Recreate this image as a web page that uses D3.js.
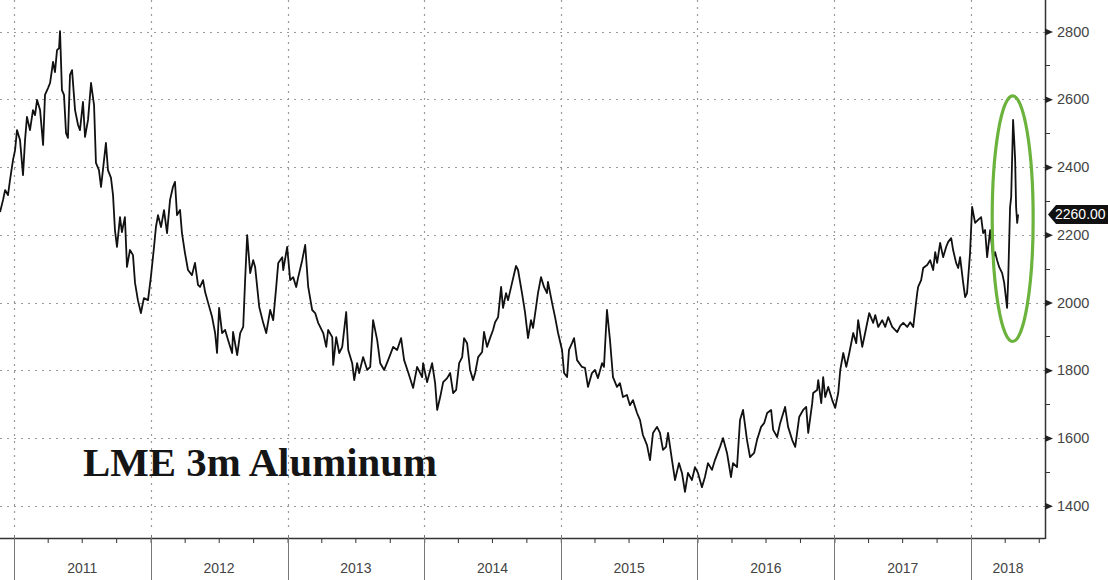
<!DOCTYPE html>
<html>
<head>
<meta charset="utf-8">
<script src="https://cdn.jsdelivr.net/npm/d3@7"></script>
<style>
  body { margin: 0; background: #fff; }
  svg { display: block; }
</style>
</head>
<body>
<div id="chart"></div>
<script>
// LME 3m aluminium (decimal year, USD/t)
var years = [2010.898,2010.920,2010.935,2010.956,2010.971,2010.993,2011.008,2011.022,2011.044,2011.066,
  2011.081,2011.095,2011.117,2011.139,2011.154,2011.169,2011.191,2011.213,2011.227,2011.249,
  2011.264,2011.286,2011.300,2011.315,2011.330,2011.337,2011.351,2011.366,2011.381,2011.395,
  2011.410,2011.425,2011.447,2011.469,2011.483,2011.505,2011.520,2011.542,2011.564,2011.586,
  2011.600,2011.622,2011.637,2011.651,2011.673,2011.688,2011.710,2011.725,2011.739,2011.754,
  2011.776,2011.790,2011.812,2011.827,2011.849,2011.871,2011.886,2011.907,2011.929,2011.951,
  2011.981,2012.002,2012.025,2012.039,2012.054,2012.076,2012.098,2012.120,2012.142,2012.163,
  2012.178,2012.193,2012.215,2012.229,2012.251,2012.273,2012.302,2012.324,2012.346,2012.361,
  2012.383,2012.398,2012.420,2012.449,2012.471,2012.485,2012.500,2012.522,2012.544,2012.566,
  2012.595,2012.602,2012.632,2012.654,2012.676,2012.690,2012.705,2012.727,2012.749,2012.763,
  2012.793,2012.822,2012.844,2012.873,2012.895,2012.917,2012.932,2012.961,2012.968,2012.997,
  2013.019,2013.041,2013.063,2013.078,2013.107,2013.129,2013.151,2013.180,2013.202,2013.224,
  2013.261,2013.283,2013.297,2013.327,2013.334,2013.356,2013.378,2013.400,2013.429,2013.444,
  2013.473,2013.488,2013.509,2013.524,2013.553,2013.583,2013.605,2013.626,2013.656,2013.678,
  2013.707,2013.736,2013.773,2013.802,2013.831,2013.853,2013.882,2013.919,2013.948,2013.985,
  2013.992,2014.021,2014.058,2014.080,2014.095,2014.117,2014.139,2014.168,2014.190,2014.212,
  2014.234,2014.256,2014.278,2014.292,2014.314,2014.336,2014.358,2014.373,2014.395,2014.424,
  2014.438,2014.460,2014.482,2014.504,2014.519,2014.541,2014.563,2014.577,2014.599,2014.614,
  2014.643,2014.672,2014.687,2014.716,2014.738,2014.760,2014.782,2014.797,2014.819,2014.833,
  2014.855,2014.877,2014.899,2014.906,2014.936,2014.958,2014.980,2015.009,2015.024,2015.046,
  2015.060,2015.082,2015.097,2015.119,2015.155,2015.177,2015.199,2015.228,2015.250,2015.272,
  2015.302,2015.316,2015.338,2015.360,2015.382,2015.411,2015.433,2015.455,2015.484,2015.506,
  2015.528,2015.558,2015.580,2015.601,2015.631,2015.653,2015.675,2015.704,2015.726,2015.748,
  2015.770,2015.785,2015.814,2015.836,2015.865,2015.887,2015.909,2015.931,2015.960,2015.982,
  2016.004,2016.033,2016.055,2016.077,2016.106,2016.128,2016.165,2016.187,2016.216,2016.245,
  2016.260,2016.289,2016.311,2016.333,2016.362,2016.384,2016.414,2016.435,2016.465,2016.487,
  2016.509,2016.538,2016.553,2016.582,2016.604,2016.640,2016.662,2016.692,2016.714,2016.743,
  2016.772,2016.794,2016.809,2016.838,2016.845,2016.874,2016.882,2016.904,2016.918,2016.933,
  2016.955,2016.984,2017.006,2017.028,2017.043,2017.065,2017.087,2017.109,2017.138,2017.160,
  2017.174,2017.204,2017.225,2017.255,2017.284,2017.299,2017.321,2017.350,2017.372,2017.394,
  2017.423,2017.460,2017.482,2017.504,2017.533,2017.555,2017.577,2017.606,2017.613,2017.635,
  2017.650,2017.679,2017.701,2017.723,2017.738,2017.752,2017.774,2017.796,2017.818,2017.833,
  2017.855,2017.869,2017.891,2017.906,2017.920,2017.942,2017.957,2017.971,2017.993,2018.008,
  2018.030,2018.052,2018.074,2018.089,2018.103,2018.118,2018.140,2018.162,2018.176,2018.191,
  2018.206,2018.228,2018.243,2018.264,2018.272,2018.286,2018.294,2018.308,2018.316,2018.323,
  2018.330,2018.338,2018.345];

var prices = [2267,2303,2332,2317,2362,2421,2450,2509,2480,2376,
  2480,2548,2509,2568,2553,2598,2568,2465,2613,2633,
  2648,2710,2680,2745,2751,2801,2627,2613,2500,2486,
  2672,2686,2568,2524,2509,2592,2489,2539,2648,2583,
  2412,2391,2341,2391,2471,2391,2368,2317,2214,2164,
  2252,2208,2252,2105,2155,2140,2058,2007,1969,2013,
  2007,2075,2164,2223,2258,2223,2273,2205,2303,2341,
  2356,2258,2273,2205,2146,2096,2081,2117,2052,2046,
  2066,2031,1999,1957,1910,1851,1984,1910,1919,1889,
  1851,1913,1845,1910,1928,2066,2199,2087,2125,2105,
  1987,1940,1910,1978,1948,2046,2117,2134,2096,2164,
  2066,2075,2046,2075,2125,2170,2046,1978,1969,1940,
  1910,1869,1919,1898,1816,1898,1851,1869,1972,1860,
  1821,1771,1821,1792,1839,1801,1810,1948,1889,1821,
  1801,1830,1869,1860,1895,1830,1795,1748,1810,1780,
  1821,1765,1821,1762,1683,1721,1765,1777,1792,1733,
  1742,1821,1839,1895,1880,1801,1771,1792,1839,1854,
  1913,1869,1895,1919,1942,1957,2046,1984,2028,2007,
  2058,2108,2096,2028,1972,1895,1948,1925,1987,2028,
  2075,2046,2028,2061,1999,1957,1910,1860,1792,1780,
  1860,1880,1895,1830,1810,1807,1751,1792,1801,1777,
  1821,1810,1978,1889,1780,1751,1762,1721,1727,1697,
  1712,1674,1653,1609,1579,1535,1615,1633,1615,1565,
  1574,1615,1535,1476,1526,1497,1441,1497,1476,1514,
  1497,1455,1485,1526,1506,1535,1574,1600,1556,1485,
  1526,1514,1653,1683,1594,1544,1556,1594,1633,1644,
  1674,1683,1624,1603,1644,1692,1633,1594,1574,1662,
  1683,1692,1615,1703,1733,1742,1771,1703,1780,1721,
  1751,1712,1689,1733,1801,1851,1810,1851,1910,1880,
  1948,1869,1910,1969,1940,1963,1928,1948,1928,1957,
  1928,1913,1931,1940,1928,1942,1928,2028,2046,2066,
  2102,2111,2125,2096,2149,2117,2176,2134,2164,2179,
  2190,2155,2117,2102,2134,2060,2016,2028,2146,2282,
  2235,2244,2252,2205,2214,2134,2214,2134,2149,2125,
  2105,2087,2058,1984,2066,2282,2311,2539,2480,2421,
  2282,2235,2260];

var priceTicks = [1400, 1600, 1800, 2000, 2200, 2400, 2600, 2800];
var minorTicks = [1500, 1700, 1900, 2100, 2300, 2500, 2700];
var yearLabels = ['2011', '2012', '2013', '2014', '2015', '2016', '2017', '2018'];
var title = 'LME 3m Aluminum';
var lastPrice = 2260;
// the green ring around the April 2018 spike
var ringYears = [2018.155, 2018.455];
var ringPrices = [1885, 2610];

function toDate(t) {
  var y = Math.floor(t),
      a = Date.UTC(y, 0, 1),
      b = Date.UTC(y + 1, 0, 1);
  return new Date(a + (t - y) * (b - a));
}

var width = 1108, height = 580,
    plotRight = 1045, plotBottom = 538;

var svg = d3.select('#chart').append('svg')
    .attr('width', width)
    .attr('height', height);

var x = d3.scaleUtc()
    .domain([toDate(2010.8976), toDate(2018.5416)])
    .range([0, plotRight]);

var y = d3.scaleLinear()
    .domain([1305, 2893])
    .range([plotBottom, 0]);

// grid
svg.append('g').selectAll('line')
    .data(priceTicks)
    .enter().append('line')
    .attr('x1', 0).attr('x2', plotRight)
    .attr('y1', function(d) { return Math.round(y(d)) + 0.5 })
    .attr('y2', function(d) { return Math.round(y(d)) + 0.5 })
    .style('stroke', '#9a9a9a')
    .style('stroke-width', 1.2)
    .style('stroke-dasharray', '2,5');

var yearStarts = yearLabels.map(function(d) { return new Date(Date.UTC(+d, 0, 1)) });

svg.append('g').selectAll('line')
    .data(yearStarts)
    .enter().append('line')
    .attr('x1', function(d) { return Math.round(x(d)) + 0.5 })
    .attr('x2', function(d) { return Math.round(x(d)) + 0.5 })
    .attr('y1', 0).attr('y2', plotBottom - 8)
    .style('stroke', '#9a9a9a')
    .style('stroke-width', 1.2)
    .style('stroke-dasharray', '2,5');

// title
svg.append('text')
    .text(title)
    .attr('x', 83)
    .attr('y', 476)
    .attr('textLength', 354)
    .attr('lengthAdjust', 'spacingAndGlyphs')
    .style('font-family', '"Liberation Serif", "Times New Roman", serif')
    .style('font-weight', 'bold')
    .style('font-size', '39px')
    .style('fill', '#151515');

// price line
var series = years.map(function(t, i) { return { date: toDate(t), price: prices[i] } });

svg.append('path')
    .datum(series)
    .attr('d', d3.line()
        .x(function(d) { return x(d.date) })
        .y(function(d) { return y(d.price) }))
    .style('fill', 'none')
    .style('stroke', '#111')
    .style('stroke-width', 1.8)
    .style('stroke-linejoin', 'round');

// ring
var rx0 = x(toDate(ringYears[0])), rx1 = x(toDate(ringYears[1])),
    ry0 = y(ringPrices[1]), ry1 = y(ringPrices[0]);
svg.append('ellipse')
    .attr('cx', (rx0 + rx1) / 2)
    .attr('cy', (ry0 + ry1) / 2)
    .attr('rx', (rx1 - rx0) / 2)
    .attr('ry', (ry1 - ry0) / 2)
    .style('fill', 'none')
    .style('stroke', '#6cb33e')
    .style('stroke-width', 3.2);

// bottom axis: quarter ticks
var bottom = svg.append('g')
    .attr('transform', 'translate(0,' + plotBottom + ')')
    .call(d3.axisBottom(x)
        .ticks(d3.utcMonth.every(3))
        .tickSize(5)
        .tickFormat(''));
bottom.select('.domain').attr('d', 'M0,0.5H' + plotRight).style('stroke', '#333').style('stroke-width', 1.5);
bottom.selectAll('.tick line').style('stroke', '#333');

bottom.selectAll('line.year')
    .data(yearStarts)
    .enter().append('line')
    .attr('class', 'year')
    .attr('x1', function(d) { return Math.round(x(d)) + 0.5 })
    .attr('x2', function(d) { return Math.round(x(d)) + 0.5 })
    .attr('y1', -3).attr('y2', height - plotBottom)
    .style('stroke', '#777');

bottom.selectAll('text.year')
    .data(yearLabels)
    .enter().append('text')
    .attr('class', 'year')
    .text(function(d) { return d })
    .attr('x', function(d, i) {
        var a = x(yearStarts[i]);
        var b = i < yearStarts.length - 1 ? x(yearStarts[i + 1]) : plotRight;
        return (a + b) / 2;
    })
    .attr('y', 35)
    .style('text-anchor', 'middle')
    .style('font-family', '"Liberation Sans", Arial, sans-serif')
    .style('font-size', '14px')
    .style('fill', '#444');

// right axis
var right = svg.append('g')
    .attr('transform', 'translate(' + plotRight + ',0)')
    .call(d3.axisRight(y)
        .tickValues(priceTicks)
        .tickFormat(d3.format('d'))
        .tickSize(0)
        .tickPadding(12));
right.select('.domain').attr('d', 'M0.5,0V' + (plotBottom + 1)).style('stroke', '#333').style('stroke-width', 1.5);
right.selectAll('.tick text')
    .style('font-family', '"Liberation Sans", Arial, sans-serif')
    .style('font-size', '14.5px')
    .style('fill', '#444');
right.selectAll('.tick').append('path')
    .attr('d', 'M0,-3.5L8,0L0,3.5Z')
    .style('fill', '#222');

right.selectAll('line.minor')
    .data(minorTicks)
    .enter().append('line')
    .attr('class', 'minor')
    .attr('x1', 0).attr('x2', 5)
    .attr('y1', function(d) { return Math.round(y(d)) + 0.5 })
    .attr('y2', function(d) { return Math.round(y(d)) + 0.5 })
    .style('stroke', '#333');

// last value tag
var ty = y(lastPrice);
var tag = right.append('g').attr('transform', 'translate(0,' + ty + ')');
tag.append('path')
    .attr('d', 'M3,0L11,-9.5H' + (width - plotRight) + 'V9.5H11Z')
    .style('fill', '#111');
tag.append('text')
    .text(d3.format('.2f')(lastPrice))
    .attr('x', 10)
    .attr('y', 5)
    .style('font-family', '"Liberation Sans", Arial, sans-serif')
    .style('font-size', '14px')
    .style('fill', '#fff');
</script>
</body>
</html>
